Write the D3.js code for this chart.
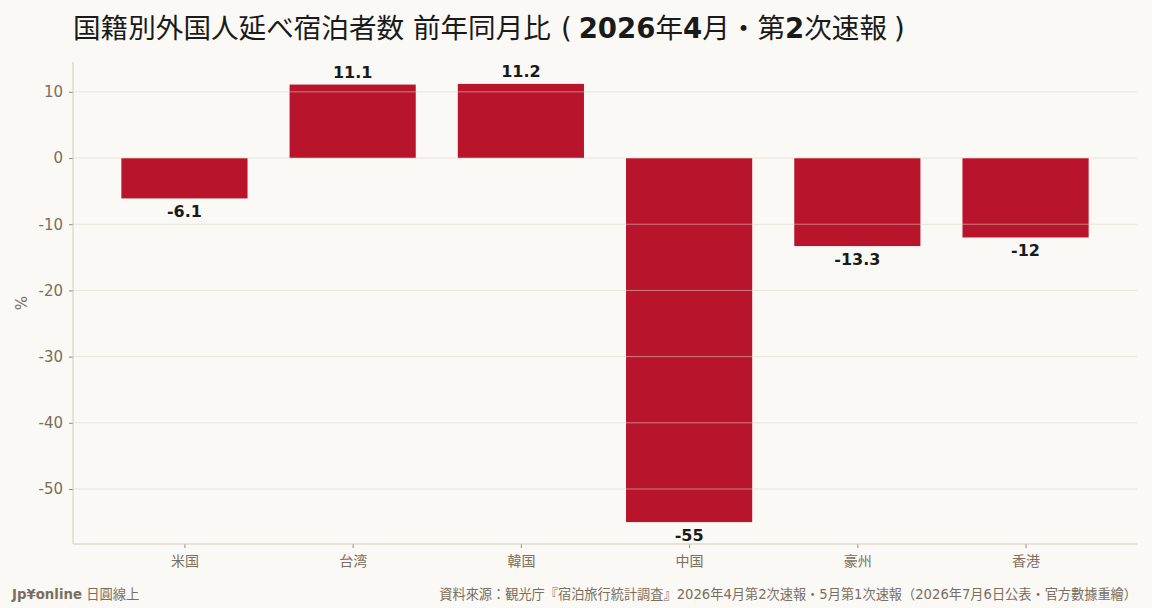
<!DOCTYPE html>
<html>
<head>
<meta charset="utf-8">
<script src="https://cdn.jsdelivr.net/npm/d3@7"></script>
<style>
  body { margin: 0; background: #faf9f5; }
  svg { display: block; }
</style>
</head>
<body>
<div id="chart-area"></div>
<script>
// data
var countries = ["米国", "台湾", "韓国", "中国", "豪州", "香港"];
var changes = [-6.1, 11.1, 11.2, -55, -13.3, -12];
var yTicks = [10, 0, -10, -20, -30, -40, -50];

var width = 1152;
var height = 608;
var margin = {top: 62, right: 15, bottom: 64, left: 73};
var innerW = width - margin.left - margin.right;
var innerH = height - margin.top - margin.bottom;
var fontMix = "DejaVu Sans, Noto Sans CJK JP, sans-serif";

var svg = d3.select("#chart-area")
    .append("svg")
    .attr("width", width)
    .attr("height", height);

svg.append("rect")
    .attr("width", width)
    .attr("height", height)
    .attr("fill", "#faf9f5");

var g = svg.append("g")
    .attr("transform", "translate(" + margin.left + ", " + margin.top + ")");

// matplotlib-like limits: 5% padding
var lo = d3.min(changes), hi = d3.max(changes);
var pad = (hi - lo) * 0.05;
var y = d3.scaleLinear()
    .domain([lo - pad, hi + pad])
    .range([innerH, 0]);

var barW = 0.75;
var xPad = (countries.length - 1 + barW) * 0.05 + barW / 2;
var x = d3.scaleLinear()
    .domain([-xPad, countries.length - 1 + xPad])
    .range([0, innerW]);
var unit = x(1) - x(0);

// bars
g.selectAll("rect.bar")
    .data(changes)
    .enter()
    .append("rect")
    .attr("class", "bar")
    .attr("x", (d, i) => x(i) - unit * barW / 2)
    .attr("y", (d) => y(Math.max(0, d)))
    .attr("width", unit * barW)
    .attr("height", (d) => Math.abs(y(d) - y(0)))
    .attr("fill", "#b8142c");

// grid on top of bars
g.selectAll("line.grid")
    .data(yTicks)
    .enter()
    .append("line")
    .attr("class", "grid")
    .attr("x1", 0)
    .attr("x2", innerW)
    .attr("y1", (d) => y(d))
    .attr("y2", (d) => y(d))
    .attr("stroke", "#ddd5c6")
    .attr("stroke-opacity", 0.7)
    .attr("stroke-width", 0.8);

// value labels
g.selectAll("text.val")
    .data(changes)
    .enter()
    .append("text")
    .attr("class", "val")
    .attr("x", (d, i) => x(i))
    .attr("y", (d) => d >= 0 ? y(d) - 7 : y(d) + 19)
    .attr("text-anchor", "middle")
    .attr("font-family", "DejaVu Sans, sans-serif")
    .attr("font-weight", "bold")
    .attr("font-size", "16px")
    .attr("fill", "#1a1a1a")
    .text((d) => d);

// axes
var yAxisCall = d3.axisLeft(y)
    .tickValues(yTicks)
    .tickSize(4)
    .tickPadding(6)
    .tickFormat((d) => d);

var yAxisGroup = g.append("g")
    .attr("class", "y axis")
    .call(yAxisCall);

var xAxisCall = d3.axisBottom(x)
    .tickValues(d3.range(countries.length))
    .tickSize(4)
    .tickPadding(8)
    .tickFormat((d) => countries[d]);

var xAxisGroup = g.append("g")
    .attr("class", "x axis")
    .attr("transform", "translate(0, " + innerH + ")")
    .call(xAxisCall);

[yAxisGroup, xAxisGroup].forEach((ax) => {
    ax.select(".domain").remove();
    ax.selectAll(".tick line").attr("stroke", "#7a6e5e").attr("stroke-width", 0.8);
});
yAxisGroup.selectAll("text")
    .attr("font-family", "DejaVu Sans, sans-serif")
    .attr("font-size", "15px")
    .attr("fill", "#7a6e5e");
xAxisGroup.selectAll("text")
    .attr("font-family", "Noto Sans CJK JP, sans-serif")
    .attr("font-size", "14px")
    .attr("fill", "#7a6e5e");

// spines
g.append("line")
    .attr("x1", 0).attr("x2", 0)
    .attr("y1", 0).attr("y2", innerH)
    .attr("stroke", "#d3cbbb").attr("stroke-width", 1);
g.append("line")
    .attr("x1", 0).attr("x2", innerW)
    .attr("y1", innerH).attr("y2", innerH)
    .attr("stroke", "#d3cbbb").attr("stroke-width", 1);

// y label
g.append("text")
    .attr("transform", "rotate(-90)")
    .attr("x", -innerH / 2)
    .attr("y", -46)
    .attr("text-anchor", "middle")
    .attr("font-family", "DejaVu Sans, sans-serif")
    .attr("font-size", "15px")
    .attr("fill", "#7a6e5e")
    .text("%");

// title: latin digits bold, CJK regular, spaced parens
var title = svg.append("text")
    .attr("x", 73)
    .attr("y", 38)
    .attr("font-family", fontMix)
    .attr("font-size", "27.6px")
    .attr("fill", "#1a1a1a");
var titleParts = [
    ["国籍別外国人延べ宿泊者数 前年同月比", false, 0],
    ["(", false, 10],
    ["2026", true, 7],
    ["年", false, 0],
    ["4", true, 0],
    ["月・第", false, 0],
    ["2", true, 0],
    ["次速報", false, 0],
    [")", false, 7]
];
titleParts.forEach((p) => {
    title.append("tspan")
        .attr("dx", p[2])
        .attr("font-weight", p[1] ? "bold" : "normal")
        .text(p[0]);
});

// footer
var brand = svg.append("text")
    .attr("x", 12)
    .attr("y", 599)
    .attr("font-family", fontMix)
    .attr("font-size", "13.3px")
    .attr("fill", "#7a6e5e");
brand.append("tspan").attr("font-weight", "bold").text("Jp¥online");
brand.append("tspan").text(" 日圓線上");

svg.append("text")
    .attr("x", 1137)
    .attr("y", 599)
    .attr("text-anchor", "end")
    .attr("font-family", fontMix)
    .attr("font-size", "13.2px")
    .attr("fill", "#7a6e5e")
    .text("資料來源：観光庁『宿泊旅行統計調査』2026年4月第2次速報・5月第1次速報（2026年7月6日公表・官方數據重繪）");
</script>
</body>
</html>
